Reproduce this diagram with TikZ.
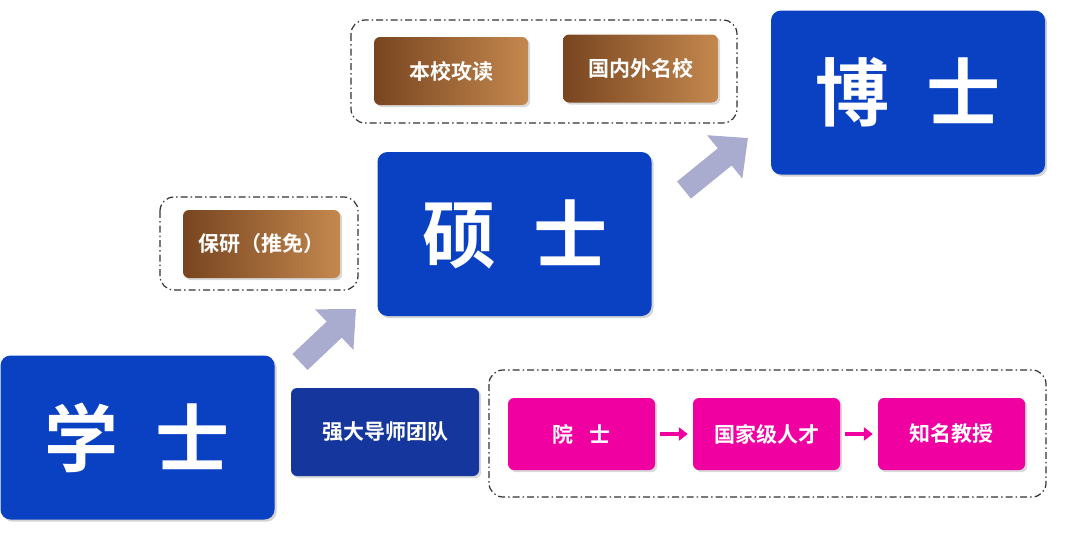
\documentclass[tikz,border=0pt]{standalone}
\usepackage{fontspec}
\newfontfamily\cjk{Noto Sans CJK SC}[BoldFont={* Bold}]
\usetikzlibrary{shadows,arrows.meta}
\definecolor{degblue}{HTML}{0A40C2}
\definecolor{teamblue}{HTML}{15369C}
\definecolor{pinkc}{HTML}{F000A0}
\definecolor{arrowc}{HTML}{A9ABCF}
\definecolor{browndk}{HTML}{784520}
\definecolor{brownlt}{HTML}{C4884E}
\tikzset{
  degree/.style={fill=degblue, rounded corners=10pt, minimum width=274pt, minimum height=164pt,
    text=white, font=\cjk\bfseries\fontsize{74}{74}\selectfont, drop shadow={opacity=0.35}},
  brownbox/.style={left color=browndk, right color=brownlt, rounded corners=6pt, minimum height=68pt,
    text=white, font=\cjk\bfseries\fontsize{21}{21}\selectfont, drop shadow={opacity=0.3}},
  pinkbox/.style={fill=pinkc, rounded corners=6pt, minimum width=147pt, minimum height=72pt,
    text=white, font=\cjk\bfseries\fontsize{21}{21}\selectfont, drop shadow={opacity=0.3}},
  group/.style={draw=black!80, line width=1.2pt, dash pattern=on 7pt off 3pt on 1.5pt off 3pt, rounded corners=14pt},
  bigarrow/.style={arrowc, line width=22pt, -{Triangle[length=30pt,width=54pt]}},
  smallarrow/.style={pinkc, line width=4pt, shorten <=5pt, shorten >=5pt, -{Triangle[length=9pt,width=13pt]}}
}
\begin{document}
\begin{tikzpicture}[x=1pt,y=-1pt]
  \useasboundingbox (0,0) rectangle (1080,554);

  % groups
  \draw[group] (160,197) rectangle (358,290);
  \draw[group] (351,20) rectangle (737,123);
  \draw[group] (489,370) rectangle (1046,497);

  % degrees
  \node[degree] (bachelor) at (137.5,437.5) {学\hspace{0.5em}士};
  \node[degree] (master) at (514.5,234) {硕\hspace{0.5em}士};
  \node[degree] (doctor) at (908,92.5) {博\hspace{0.5em}士};

  % arrows between degrees
  \coordinate (a1s) at (300,362);
  \coordinate (a1e) at (356,309);
  \coordinate (a2s) at (684,190);
  \coordinate (a2e) at (748,138);
  \draw[bigarrow] (a1s) -- (a1e);
  \draw[bigarrow] (a2s) -- (a2e);

  % routes
  \node[brownbox, minimum width=157pt] (recommend) at (261.5,244) {保研（推免）};
  \node[brownbox, minimum width=154pt] (local) at (451,71) {本校攻读};
  \node[brownbox, minimum width=155pt] (abroad) at (640.5,68.5) {国内外名校};

  % team
  \node[fill=teamblue, rounded corners=6pt, minimum width=188pt, minimum height=88pt, text=white,
    font=\cjk\bfseries\fontsize{21}{21}\selectfont, drop shadow={opacity=0.3}] (team) at (385,432) {强大导师团队};
  \node[pinkbox] (academician) at (581.5,434) {院\hspace{0.8em}士};
  \node[pinkbox] (talent) at (766.5,434) {国家级人才};
  \node[pinkbox] (professor) at (951.5,434) {知名教授};
  \draw[smallarrow] (academician) -- (talent);
  \draw[smallarrow] (talent) -- (professor);
\end{tikzpicture}
\end{document}
